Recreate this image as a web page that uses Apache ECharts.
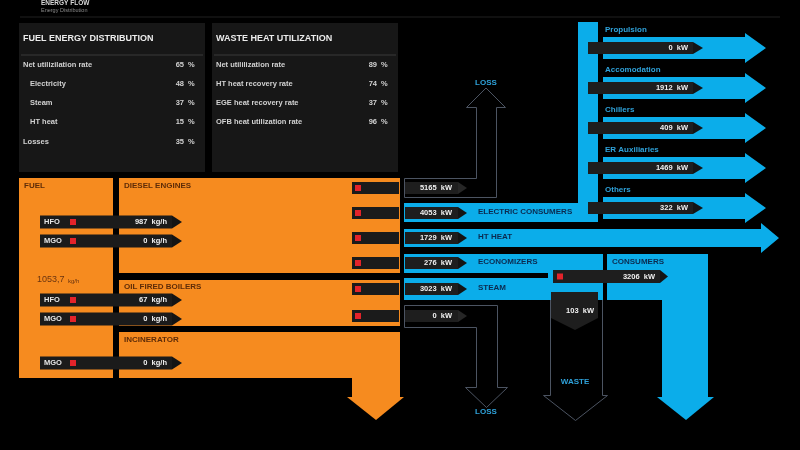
<!DOCTYPE html>
<html><head><meta charset="utf-8">
<script src="https://cdn.jsdelivr.net/npm/echarts@6/dist/echarts.min.js"></script>
<style>html,body{margin:0;padding:0;background:#000}#c{width:800px;height:450px}</style>
</head><body><div id="c"></div>
<script>
// ---------------- DATA ----------------
const headerTitle = 'ENERGY FLOW';
const headerSubtitle = 'Energy Distribution';
const fuelPanelTitle = 'FUEL ENERGY DISTRIBUTION';
const fuelShareLabels = ['Net utilizilation rate', 'Electricity', 'Steam', 'HT heat', 'Losses'];
const fuelShareValues = [65, 48, 37, 15, 35];
const wastePanelTitle = 'WASTE HEAT UTILIZATION';
const wasteRateLabels = ['Net utililization rate', 'HT heat recovery rate', 'EGE heat recovery rate', 'OFB heat utilization rate'];
const wasteRateValues = [89, 74, 37, 96];
const plantNames = ['FUEL', 'DIESEL ENGINES', 'OIL FIRED BOILERS', 'INCINERATOR'];
const fuelTotal = '1053,7';
const fuelFeedTypes = ['HFO', 'MGO', 'HFO', 'MGO', 'MGO'];
const fuelFeedRates = [987, 0, 67, 0, 0];
const outputNames = ['', 'ELECTRIC CONSUMERS', 'HT HEAT', 'ECONOMIZERS', 'STEAM', ''];
const outputValues = [5165, 4053, 1729, 276, 3023, 0];
const lossLabel = 'LOSS';
const electricNames = ['Propulsion', 'Accomodation', 'Chillers', 'ER Auxiliaries', 'Others'];
const electricValues = [0, 1912, 409, 1469, 322];
const steamConsumerName = 'CONSUMERS';
const steamConsumerValue = 3206;
const wasteName = 'WASTE';
const wasteValue = 103;

// ---------------- LAYOUT / STYLE ----------------
const F = '"Liberation Sans", Arial, sans-serif';
const C = {
  orange: '#f68b1f', blue: '#0badea', bar: '#1b1b1b', box: '#1e1e1e', red: '#e3232a',
  navy: '#0c2a4f', brown: '#5e2c08', blueText: '#2fa2da', outline: '#4c5462',
  panel: '#171717', text: '#d2d2d2'
};
const L = {
  shareY: [65, 84, 103, 122, 142],
  shareIndent: [0, 7, 7, 7, 0],
  feedY: [222, 241, 300, 319, 363],
  outY: [188, 213, 238, 263, 289, 316],
  outDim: [true, false, false, false, false, true],
  branchY: [48, 88, 128, 168, 208]
};

function rect(api, x, y, w, h, fill, extra) {
  const a = api.coord([x, y]), b = api.coord([x + w, y + h]);
  return { type: 'rect', shape: { x: a[0], y: a[1], width: b[0] - a[0], height: b[1] - a[1] },
    style: Object.assign({ fill: fill }, extra || {}) };
}
function poly(api, pts, style, type) {
  return { type: type || 'polygon', shape: { points: pts.map(p => api.coord(p)) }, style: style };
}
function txt(api, x, y, s, st) {
  const a = api.coord([x, y]);
  return { type: 'text', style: Object.assign({ text: s, x: a[0], y: a[1], fontFamily: F, fontWeight: 'bold',
    fontSize: 8, fill: C.text, align: 'left', verticalAlign: 'middle' }, st || {}) };
}
function tri(api, x, cy, h, w, fill) {
  return poly(api, [[x, cy - h], [x + w, cy], [x, cy + h]], { fill: fill });
}

// static structure
function renderStatic(params, api) {
  const ch = [];
  ch.push(txt(api, 41, 3, headerTitle, { fontSize: 6.5, fill: '#d8d8d8' }));
  ch.push(txt(api, 41, 10.5, headerSubtitle, { fontSize: 5.5, fontWeight: 'normal', fill: '#8a8a8a' }));
  ch.push(rect(api, 20, 16.5, 760, 1, '#202020'));
  // panels
  ch.push(rect(api, 19, 23, 186, 149, C.panel));
  ch.push(rect(api, 212, 23, 186, 149, C.panel));
  ch.push(txt(api, 23, 39, fuelPanelTitle, { fontSize: 9, fill: '#ececec' }));
  ch.push(txt(api, 216, 39, wastePanelTitle, { fontSize: 9, fill: '#ececec' }));
  ch.push(rect(api, 21, 54.5, 182, 1, '#3a3a3a'));
  ch.push(rect(api, 214, 54.5, 182, 1, '#3a3a3a'));
  // orange blocks
  ch.push(rect(api, 19, 178, 94, 200, C.orange));
  ch.push(rect(api, 119, 178, 281, 95, C.orange));
  ch.push(rect(api, 119, 280, 281, 46, C.orange));
  ch.push(rect(api, 119, 332, 281, 46, C.orange));
  ch.push(rect(api, 352, 377, 48, 21, C.orange));
  ch.push(poly(api, [[347, 397], [404, 397], [376, 420]], { fill: C.orange }));
  ch.push(txt(api, 24, 186, plantNames[0], { fill: C.brown }));
  ch.push(txt(api, 124, 186, plantNames[1], { fill: C.brown }));
  ch.push(txt(api, 124, 287, plantNames[2], { fill: C.brown }));
  ch.push(txt(api, 124, 340, plantNames[3], { fill: C.brown }));
  ch.push(txt(api, 37, 280, fuelTotal, { fill: '#6a3410', fontWeight: 'normal', fontSize: 9 }));
  ch.push(txt(api, 68, 281, 'kg/h', { fill: '#6a3410', fontWeight: 'normal', fontSize: 6 }));
  // blue: electric trunk
  ch.push(rect(api, 578, 22, 20, 200, C.blue));
  ch.push(rect(api, 404, 203, 194, 19, C.blue));
  // HT arrow
  ch.push(poly(api, [[404, 229], [761, 229], [761, 223], [779, 238], [761, 253], [761, 247], [404, 247]], { fill: C.blue }));
  // economizers / steam / consumers
  ch.push(rect(api, 404, 254, 199, 19, C.blue));
  ch.push(rect(api, 404, 278, 199, 22, C.blue));
  ch.push(rect(api, 548, 272, 55, 7, C.blue));
  ch.push(rect(api, 607, 254, 101, 46, C.blue));
  ch.push(rect(api, 662, 299, 46, 99, C.blue));
  ch.push(poly(api, [[657, 397], [714, 397], [686, 420]], { fill: C.blue }));
  ch.push(txt(api, 612, 262, steamConsumerName, { fill: C.navy }));
  // outline arrows
  const os = { fill: 'none', stroke: C.outline, lineWidth: 1 };
  ch.push(poly(api, [[404.5, 197.5], [496.5, 197.5], [496.5, 107.5], [505.5, 107.5], [486, 88], [466.5, 107.5], [476.5, 107.5], [476.5, 178.5], [404.5, 178.5]], os));
  ch.push(poly(api, [[404.5, 305.5], [497.5, 305.5], [497.5, 387.5], [507.5, 387.5], [486.5, 407.5], [465.5, 387.5], [476.5, 387.5], [476.5, 327.5], [404.5, 327.5]], os));
  ch.push(poly(api, [[550.5, 300], [550.5, 395.5], [543.5, 395.5], [575.5, 420.5], [607.5, 395.5], [602.5, 395.5], [602.5, 300]], os, 'polyline'));
  ch.push(txt(api, 486, 83, lossLabel, { fill: C.blueText, align: 'center' }));
  ch.push(txt(api, 486, 412, lossLabel, { fill: C.blueText, align: 'center' }));
  ch.push(txt(api, 575, 382, wasteName, { fill: C.blueText, align: 'center' }));
  return { type: 'group', children: ch };
}

function renderShare(params, api) {
  const i = params.dataIndex;
  const y = L.shareY[i];
  return { type: 'group', children: [
    txt(api, 23 + L.shareIndent[i], y, fuelShareLabels[i], { fontSize: 7.5 }),
    txt(api, 184, y, String(fuelShareValues[i]), { fontSize: 7.5, align: 'right' }),
    txt(api, 188, y, '%', { fontSize: 7.5 })
  ] };
}
function renderWaste(params, api) {
  const i = params.dataIndex;
  const y = L.shareY[i];
  return { type: 'group', children: [
    txt(api, 216, y, wasteRateLabels[i], { fontSize: 7.5 }),
    txt(api, 377, y, String(wasteRateValues[i]), { fontSize: 7.5, align: 'right' }),
    txt(api, 381, y, '%', { fontSize: 7.5 })
  ] };
}
function renderFeed(params, api) {
  const i = params.dataIndex;
  const cy = L.feedY[i];
  return { type: 'group', children: [
    rect(api, 40, cy - 6.5, 132, 13, C.bar),
    tri(api, 172, cy, 6.5, 10, '#141414'),
    txt(api, 44, cy, fuelFeedTypes[i], { fontSize: 7.5, fill: '#e6e6e6' }),
    rect(api, 70, cy - 3, 6, 6, C.red),
    txt(api, 167, cy, fuelFeedRates[i] + '  kg/h', { fontSize: 7.5, fill: '#f0f0f0', align: 'right' })
  ] };
}
function renderOut(params, api) {
  const i = params.dataIndex;
  const cy = L.outY[i];
  const ch = [
    rect(api, 352, cy - 6, 47, 12, C.bar),
    rect(api, 355, cy - 3, 6, 6, C.red),
    rect(api, 405, cy - 6, 53, 12, C.box),
    tri(api, 458, cy, 6, 9, L.outDim[i] ? '#262626' : '#141414'),
    txt(api, 452, cy, outputValues[i] + '  kW', { fontSize: 7.5, fill: '#f0f0f0', align: 'right' })
  ];
  if (outputNames[i]) ch.push(txt(api, 478, cy - 1, outputNames[i], { fill: C.navy }));
  return { type: 'group', children: ch };
}
function renderElectric(params, api) {
  const i = params.dataIndex;
  const cy = L.branchY[i];
  return { type: 'group', children: [
    poly(api, [[603, cy - 11], [745, cy - 11], [745, cy - 15], [766, cy], [745, cy + 15], [745, cy + 11], [603, cy + 11]], { fill: C.blue }),
    txt(api, 605, cy - 18, electricNames[i], { fill: C.blueText }),
    rect(api, 588, cy - 6, 105, 12, C.box),
    tri(api, 693, cy, 6, 10, '#141414'),
    txt(api, 688, cy, electricValues[i] + '  kW', { fontSize: 7.5, fill: '#f0f0f0', align: 'right' })
  ] };
}
function renderSteamCons(params, api) {
  const cy = 276.5;
  return { type: 'group', children: [
    rect(api, 553, cy - 6.5, 107, 13, C.box),
    rect(api, 557, cy - 3, 6, 6, C.red),
    tri(api, 660, cy, 6.5, 8, '#141414'),
    txt(api, 655, cy, steamConsumerValue + '  kW', { fontSize: 7.5, fill: '#f0f0f0', align: 'right' })
  ] };
}
function renderWasteBox(params, api) {
  return { type: 'group', children: [
    rect(api, 551, 292, 47, 26, C.box),
    poly(api, [[551, 318], [598, 318], [575, 330]], { fill: C.box }),
    txt(api, 594, 311, wasteValue + '  kW', { fontSize: 7.5, fill: '#f0f0f0', align: 'right' })
  ] };
}

function idx(arr) { return arr.map((v, i) => [i, typeof v === 'number' ? v : i]); }

const chart = echarts.init(document.getElementById('c'), null, { renderer: 'canvas' });
chart.setOption({
  backgroundColor: '#000',
  animation: false,
  grid: { left: 0, right: 0, top: 0, bottom: 0 },
  xAxis: { type: 'value', min: 0, max: 800, show: false },
  yAxis: { type: 'value', min: 0, max: 450, inverse: true, show: false },
  series: [
    { type: 'custom', z: 1, renderItem: renderStatic, data: [[0, 0]] },
    { type: 'custom', z: 2, renderItem: renderShare, data: idx(fuelShareValues) },
    { type: 'custom', z: 2, renderItem: renderWaste, data: idx(wasteRateValues) },
    { type: 'custom', z: 3, renderItem: renderFeed, data: idx(fuelFeedRates) },
    { type: 'custom', z: 3, renderItem: renderOut, data: idx(outputValues) },
    { type: 'custom', z: 3, renderItem: renderElectric, data: idx(electricValues) },
    { type: 'custom', z: 4, renderItem: renderSteamCons, data: [[0, steamConsumerValue]] },
    { type: 'custom', z: 4, renderItem: renderWasteBox, data: [[0, wasteValue]] }
  ]
});
</script>
</body></html>
